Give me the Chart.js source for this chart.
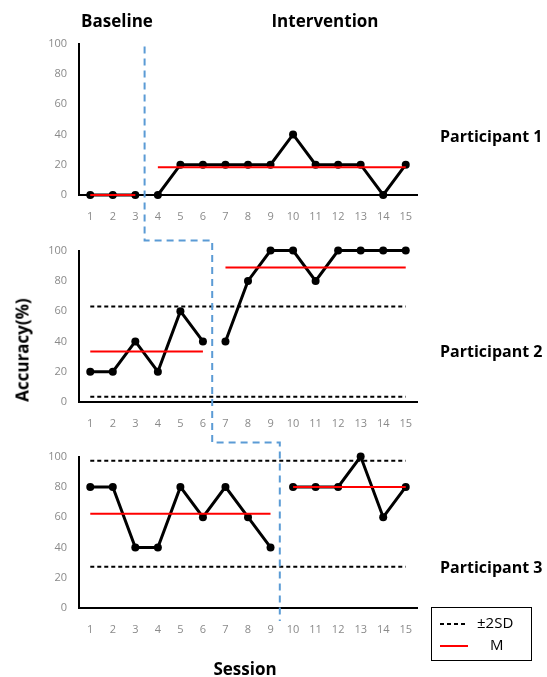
<!DOCTYPE html>
<html>
<head>
<meta charset="utf-8">
<script src="https://cdn.jsdelivr.net/npm/chart.js@4/dist/chart.umd.min.js"></script>
<style>
  body { margin: 0; background: #fff; font-family: "Open Sans", sans-serif; }
  #wrap { position: relative; width: 547px; height: 677px; overflow: hidden; }
  .panel { position: absolute; left: 0; width: 547px; height: 205px; }
  .lbl { position: absolute; font-weight: bold; color: #000; white-space: nowrap; }
  #overlay { position: absolute; left: 0; top: 0; pointer-events: none; }
  #legend { position: absolute; left: 431px; top: 607px; width: 99px; height: 52px;
            border: 1.5px solid #000; font-size: 15px; }
  .row { position: absolute; left: 0; width: 100%; height: 20px; }
  .sw { position: absolute; left: 8px; width: 28px; height: 2px; top: 9px; }
</style>
</head>
<body>
<div id="wrap">
  <canvas id="c1" class="panel" width="547" height="205" style="top:25px"></canvas>
  <canvas id="c2" class="panel" width="547" height="205" style="top:232px"></canvas>
  <canvas id="c3" class="panel" width="547" height="205" style="top:438px"></canvas>
  <canvas id="overlay" width="547" height="677"></canvas>

  <div class="lbl" style="left:117px; top:20px; font-size:17px; transform:translate(-50%,-50%)">Baseline</div>
  <div class="lbl" style="left:325px; top:20px; font-size:17px; transform:translate(-50%,-50%)">Intervention</div>
  <div class="lbl" style="left:440px; top:136px; font-size:16px; transform:translateY(-50%)">Participant 1</div>
  <div class="lbl" style="left:440px; top:351px; font-size:16px; transform:translateY(-50%)">Participant 2</div>
  <div class="lbl" style="left:440px; top:567px; font-size:16px; transform:translateY(-50%)">Participant 3</div>
  <div class="lbl" style="left:22px; top:350px; font-size:17px; transform:translate(-50%,-50%) rotate(-90deg)">Accuracy(%)</div>
  <div class="lbl" style="left:245px; top:668px; font-size:17px; transform:translate(-50%,-50%)">Session</div>

  <div id="legend">
    <div class="row" style="top:6px">
      <div class="sw" style="background:repeating-linear-gradient(90deg,#000 0 4px,transparent 4px 7px)"></div>
      <span style="position:absolute; left:45px; top:-2px">±2SD</span>
    </div>
    <div class="row" style="top:28px">
      <div class="sw" style="background:#ff0000"></div>
      <span style="position:absolute; left:58px; top:-2px">M</span>
    </div>
  </div>
</div>

<script>
// sesiones
const sessions = ['1','2','3','4','5','6','7','8','9','10','11','12','13','14','15'];

// datos por participante (precisión %)
const p1 = [0, 0, 0, 0, 20, 20, 20, 20, 20, 40, 20, 20, 20, 0, 20];
const p2 = [20, 20, 40, 20, 60, 40, 40, 80, 100, 100, 80, 100, 100, 100, 100];
const p3 = [80, 80, 40, 40, 80, 60, 80, 60, 40, 80, 80, 80, 100, 60, 80];

// número de sesiones de línea base
const p1Split = 3;
const p2Split = 6;
const p3Split = 9;

// medias [línea base, intervención]
const p1Mean = [0, 18.3];
const p2Mean = [33.3, 88.9];
const p3Mean = [62.2, 80];

// límites ±2SD [superior, inferior] (null = sin líneas)
const p1SD = null;
const p2SD = [63.1, 3.5];
const p3SD = [97.2, 27.2];

const yTicks = [0, 20, 40, 60, 80, 100];

// arma los datasets de un panel
function buildDatasets(values, split, mean, sd) {
  const base = values.map((v, i) => i < split ? v : null);
  const inter = values.map((v, i) => i >= split ? v : null);
  const meanBase = values.map((v, i) => i < split ? mean[0] : null);
  const meanInt = values.map((v, i) => i >= split ? mean[1] : null);

  const red = { borderColor: '#ff0000', borderWidth: 2, pointRadius: 0, clip: false };
  const blk = { borderColor: '#000', backgroundColor: '#000', borderWidth: 3,
                pointRadius: 4, pointBackgroundColor: '#000', pointBorderWidth: 0, clip: false };
  const ds = [
    { data: meanBase, ...red },
    { data: meanInt, ...red },
    { data: base, ...blk },
    { data: inter, ...blk }
  ];
  if (sd) {
    sd.forEach(val => {
      ds.push({ data: sessions.map(() => val), borderColor: '#000', borderWidth: 2,
                borderDash: [4, 3], pointRadius: 0, clip: false });
    });
  }
  return ds;
}

function makeChart(id, values, split, mean, sd) {
  return new Chart(document.getElementById(id).getContext('2d'), {
    type: 'line',
    data: { labels: sessions, datasets: buildDatasets(values, split, mean, sd) },
    options: {
      responsive: false,
      animation: false,
      layout: { padding: { top: 15, right: 130, bottom: 0, left: 0 } },
      plugins: { legend: { display: false }, tooltip: { enabled: false } },
      elements: { line: { tension: 0 } },
      scales: {
        x: {
          offset: true,
          grid: { display: false, drawTicks: false },
          border: { display: true, color: '#000', width: 2 },
          ticks: { color: '#8a8a8a', font: { family: 'Open Sans', size: 11 }, padding: 15, maxRotation: 0, autoSkip: false },
          afterFit: s => { s.height = 35; }
        },
        y: {
          min: 0, max: 100,
          afterBuildTicks: s => { s.ticks = yTicks.map(v => ({ value: v })); },
          grid: { display: false, drawTicks: false },
          border: { display: true, color: '#000', width: 2 },
          ticks: { color: '#8a8a8a', font: { family: 'Open Sans', size: 11 }, padding: 12 },
          afterFit: s => { s.width = 79; }
        }
      }
    }
  });
}

const ch1 = makeChart('c1', p1, p1Split, p1Mean, p1SD);
const ch2 = makeChart('c2', p2, p2Split, p2Mean, p2SD);
const ch3 = makeChart('c3', p3, p3Split, p3Mean, p3SD);

// línea de cambio de fase (escalonada) sobre los tres paneles
function phaseX(ch, split) {
  const x = ch.scales.x;
  return (x.getPixelForValue(split - 1) + x.getPixelForValue(split)) / 2 - 2;
}
function topOf(ch) { return ch.canvas.offsetTop + ch.chartArea.top; }
function bottomOf(ch) { return ch.canvas.offsetTop + ch.chartArea.bottom; }

const ctx = document.getElementById('overlay').getContext('2d');
const x1 = phaseX(ch1, p1Split), x2 = phaseX(ch2, p2Split), x3 = phaseX(ch3, p3Split);
const yA = topOf(ch2) - 10, yB = topOf(ch3) - 14;
ctx.strokeStyle = '#5b9bd5';
ctx.lineWidth = 2;
ctx.setLineDash([7, 5]);
ctx.beginPath();
ctx.moveTo(x1, topOf(ch1) + 3);
ctx.lineTo(x1, yA);
ctx.lineTo(x2, yA);
ctx.lineTo(x2, yB);
ctx.lineTo(x3, yB);
ctx.lineTo(x3, bottomOf(ch3) + 13);
ctx.stroke();
</script>
</body>
</html>
